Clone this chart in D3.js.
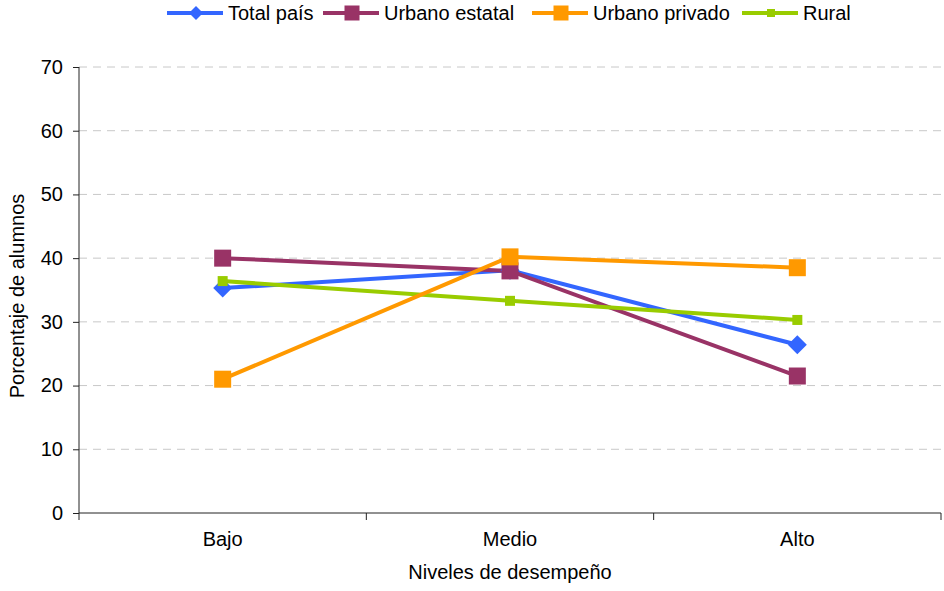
<!DOCTYPE html>
<html><head><meta charset="utf-8">
<script src="https://cdn.jsdelivr.net/npm/d3@7"></script>
<style>body{margin:0;background:#fff}svg{display:block;font-family:"Liberation Sans",Arial,sans-serif}</style>
</head><body><svg id="c" width="944" height="591"></svg>
<script>
const categories = ["Bajo", "Medio", "Alto"];
const seriesNames = ["Total país", "Urbano estatal", "Urbano privado", "Rural"];
const totalPais = [35.3, 38.1, 26.4];
const urbanoEstatal = [40.0, 38.0, 21.5];
const urbanoPrivado = [21.0, 40.2, 38.5];
const rural = [36.4, 33.3, 30.3];
const yTicks = [0, 10, 20, 30, 40, 50, 60, 70];
const colors = ["#3366FF", "#993366", "#FF9900", "#99CC00"];
const markers = ["diamond", "square", "square", "smallsquare"];

const series = [totalPais, urbanoEstatal, urbanoPrivado, rural].map((v, i) => ({name: seriesNames[i], values: v, color: colors[i], marker: markers[i]}));

const svg = d3.select("#c");
const L = 79, R = 941, T = 67, B = 513;
const FS = 20;
const x = d3.scaleBand().domain(categories).range([L, R]);
const y = d3.scaleLinear().domain([0, 70]).range([B, T]);

// gridlines
svg.append("g").selectAll("line").data(yTicks.filter(d => d > 0)).join("line")
  .attr("x1", L).attr("x2", R).attr("y1", d => y(d)).attr("y2", d => y(d))
  .attr("stroke", "#c8c8c8").attr("stroke-width", 1).attr("stroke-dasharray", "8,6");

// y axis
const ya = svg.append("g").attr("transform", `translate(${L},0)`)
  .call(d3.axisLeft(y).tickValues(yTicks).tickSize(6).tickPadding(10));
ya.attr("font-size", FS).attr("font-family", null);
ya.selectAll("text").attr("font-size", FS).attr("fill", "#000");
ya.selectAll("line,path").attr("stroke", "#222");
ya.select(".domain").attr("d", `M0,${T}V${B}`);

// x axis
const xa = svg.append("g").attr("transform", `translate(0,${B})`)
  .call(d3.axisBottom(x).tickSize(0).tickPadding(19));
xa.attr("font-size", FS).attr("font-family", null);
xa.selectAll("text").attr("font-size", FS).attr("fill", "#000");
xa.select(".domain").attr("stroke", "#222").attr("d", `M${L},0H${R}`);
xa.append("g").selectAll("line").data([L, ...categories.map(c => x(c) + x.bandwidth())]).join("line")
  .attr("x1", d => d).attr("x2", d => d).attr("y1", 0).attr("y2", 7).attr("stroke", "#222");

// axis titles
svg.append("text").attr("x", (L + R) / 2 + 0).attr("y", 579).attr("text-anchor", "middle")
  .attr("font-size", FS).text("Niveles de desempeño");
svg.append("text").attr("transform", `translate(24,296) rotate(-90)`).attr("text-anchor", "middle")
  .attr("font-size", FS).text("Porcentaje de alumnos");

function drawMarker(g, type, color) {
  if (type === "diamond") g.append("path").attr("d", "M0,-9.5L9.5,0L0,9.5L-9.5,0Z").attr("fill", color);
  else if (type === "square") g.append("rect").attr("x", -8.5).attr("y", -8.5).attr("width", 17).attr("height", 17).attr("fill", color);
  else g.append("rect").attr("x", -5).attr("y", -5).attr("width", 10).attr("height", 10).attr("fill", color);
}

const line = d3.line().x((d, i) => x(categories[i]) + x.bandwidth() / 2).y(d => y(d));
const draworder = [0, 1, 3, 2];
draworder.forEach(i => {
  const s = series[i];
  svg.append("path").attr("d", line(s.values)).attr("fill", "none").attr("stroke", s.color).attr("stroke-width", 4);
});
draworder.forEach(i => {
  const s = series[i];
  s.values.forEach((v, j) => {
    const g = svg.append("g").attr("transform", `translate(${x(categories[j]) + x.bandwidth() / 2},${y(v)})`);
    drawMarker(g, s.marker, s.color);
  });
});

// legend
const legX = [167, 323, 532, 742];
series.forEach((s, i) => {
  const g = svg.append("g").attr("transform", `translate(${legX[i]},13)`);
  g.append("line").attr("x1", 0).attr("x2", 56).attr("stroke", s.color).attr("stroke-width", 4);
  const m = g.append("g").attr("transform", "translate(29,0)");
  if (s.marker === "diamond") m.append("path").attr("d", "M0,-7L7,0L0,7L-7,0Z").attr("fill", s.color);
  else if (s.marker === "square") m.append("rect").attr("x", -7.5).attr("y", -7.5).attr("width", 15).attr("height", 15).attr("fill", s.color);
  else m.append("rect").attr("x", -4).attr("y", -4).attr("width", 8).attr("height", 8).attr("fill", s.color);
  g.append("text").attr("x", 61).attr("y", 7).attr("font-size", FS).text(s.name);
});
</script></body></html>
